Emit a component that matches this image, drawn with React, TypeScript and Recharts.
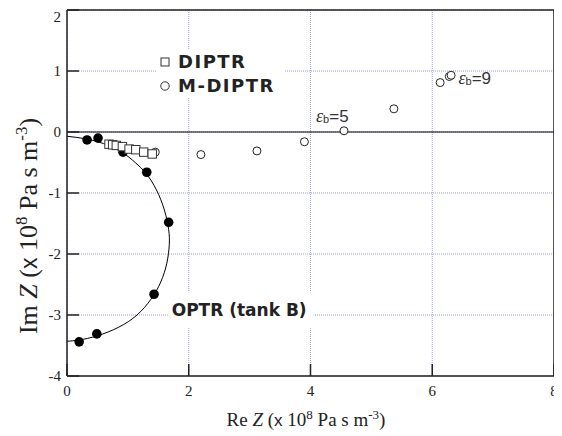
import React from 'react';
import {
  ComposedChart,
  XAxis,
  YAxis,
  CartesianGrid,
  Scatter,
  Line,
  ReferenceLine,
  ReferenceDot,
  Legend,
} from 'recharts';

// ---- axis ticks ----
const xTicks = [0, 2, 4, 6, 8];
const yTicks = [-4, -3, -2, -1, 0, 1, 2];

// ---- OPTR (tank B): filled circles ----
const optrRe = [0.33, 0.51, 0.92, 1.31, 1.67, 1.43, 0.49, 0.2];
const optrIm = [-0.13, -0.1, -0.33, -0.66, -1.48, -2.66, -3.31, -3.44];

// ---- OPTR fitted curve ----
const fitRe = [0, 0.3, 0.6, 0.9, 1.12, 1.3, 1.47, 1.6, 1.67, 1.68, 1.64, 1.54, 1.38, 1.15, 0.85, 0.5, 0.2, 0];
const fitIm = [-0.07, -0.11, -0.19, -0.33, -0.5, -0.68, -0.95, -1.28, -1.6, -1.85, -2.15, -2.46, -2.74, -3.0, -3.2, -3.34, -3.41, -3.43];

// ---- DIPTR: open squares ----
const diptrRe = [0.69, 0.75, 0.81, 0.91, 1.02, 1.13, 1.26, 1.4];
const diptrIm = [-0.2, -0.21, -0.22, -0.24, -0.28, -0.29, -0.33, -0.36];

// ---- M-DIPTR: open circles ----
const mdiptrRe = [1.45, 2.2, 3.12, 3.9, 4.55, 5.37, 6.13, 6.28, 6.31];
const mdiptrIm = [-0.33, -0.37, -0.31, -0.16, 0.02, 0.38, 0.81, 0.91, 0.93];

// ---- annotations ----
const epsLabels = [
  { x: 4.09, y: 0.17, value: '5' },
  { x: 6.43, y: 0.79, value: '9' },
];
const optrLabel = { x: 1.72, y: -3.02, text: 'OPTR (tank B)' };
const legendItems = [
  { label: 'DIPTR', shape: 'square' },
  { label: 'M-DIPTR', shape: 'circle' },
];

const zip = (xs: number[], ys: number[]) => xs.map((x, i) => ({ x, y: ys[i] }));
const optrData = zip(optrRe, optrIm);
const fitData = zip(fitRe, fitIm);
const diptrData = zip(diptrRe, diptrIm);
const mdiptrData = zip(mdiptrRe, mdiptrIm);

const FRAME = '#222';
const GRID = '#9a9af4';
const SERIF = 'Liberation Serif';

const FilledDot = (p: any) => <circle cx={p.cx} cy={p.cy} r={4.8} fill="#000" />;
const OpenDot = (p: any) => (
  <circle cx={p.cx} cy={p.cy} r={4} fill="#fff" stroke="#222" strokeWidth={1} />
);
const OpenSquare = (p: any) => (
  <rect x={p.cx - 4.2} y={p.cy - 4.2} width={8.4} height={8.4} fill="#fff" stroke="#333" strokeWidth={1} />
);

const XTick = (p: any) => (
  <text x={p.x} y={p.y} dy={10} textAnchor="middle" fill="#222" fontFamily={SERIF} fontSize={15}>
    {p.payload.value}
  </text>
);
const YTick = (p: any) => (
  <text x={p.x} y={p.y} dy={5} textAnchor="end" fill="#222" fontFamily={SERIF} fontSize={15}>
    {p.payload.value}
  </text>
);

const center = (vb: any) => ({
  x: (vb?.x ?? 0) + (vb?.width ?? 0) / 2,
  y: (vb?.y ?? 0) + (vb?.height ?? 0) / 2,
});

const EpsLabel = (value: string) => (props: any) => {
  const c = center(props.viewBox);
  return (
    <text x={c.x} y={c.y} fill="#333">
      <tspan fontFamily={SERIF} fontStyle="italic" fontSize={18}>ε</tspan>
      <tspan fontFamily="Liberation Sans" fontSize={11} dy={1}>b</tspan>
      <tspan fontFamily="Liberation Sans" fontSize={17} dy={-1}>={value}</tspan>
    </text>
  );
};

const OptrLabel = (props: any) => {
  const c = center(props.viewBox);
  return (
    <g>
      <rect x={c.x - 4} y={c.y - 24} width={146} height={36} fill="#fff" />
      <text x={c.x} y={c.y} fill="#222" fontFamily="DejaVu Sans" fontWeight="bold" fontSize={17}>
        {optrLabel.text}
      </text>
    </g>
  );
};

const XTitle = () => (
  <text x={298} y={418} textAnchor="middle" fill="#222" fontFamily={SERIF} fontSize={19}>
    <tspan>Re </tspan>
    <tspan fontStyle="italic">Z</tspan>
    <tspan> (</tspan>
    <tspan fontFamily="Liberation Sans" fontSize={17}>x</tspan>
    <tspan> 10</tspan>
    <tspan fontSize={13} dy={-7}>8</tspan>
    <tspan dy={7}> Pa s m</tspan>
    <tspan fontSize={13} dy={-7}>-3</tspan>
    <tspan dy={7}>)</tspan>
  </text>
);

const YTitle = () => (
  <text
    transform="translate(29,218) rotate(-90)"
    x={0}
    y={0}
    textAnchor="middle"
    fill="#222"
    fontFamily={SERIF}
    fontSize={26}
  >
    <tspan>Im </tspan>
    <tspan fontStyle="italic">Z</tspan>
    <tspan> (</tspan>
    <tspan fontFamily="Liberation Sans" fontSize={23}>x</tspan>
    <tspan> 10</tspan>
    <tspan fontSize={17} dy={-10}>8</tspan>
    <tspan dy={10}> Pa s m</tspan>
    <tspan fontSize={17} dy={-10}>-3</tspan>
    <tspan dy={10}>)</tspan>
  </text>
);

const LegendBox = () => (
  <div style={{ background: '#fff', width: 128 }}>
    {legendItems.map((it) => (
      <div key={it.label} style={{ display: 'flex', alignItems: 'center', height: 24 }}>
        <svg width={16} height={16} style={{ display: 'block' }}>
          {it.shape === 'square' ? (
            <rect x={4} y={4} width={8} height={8} fill="#fff" stroke="#333" strokeWidth={1} />
          ) : (
            <circle cx={8} cy={8} r={4.2} fill="#fff" stroke="#333" strokeWidth={1} />
          )}
        </svg>
        <span
          style={{
            marginLeft: 5,
            fontFamily: 'DejaVu Sans',
            fontWeight: 'bold',
            fontSize: 18,
            letterSpacing: 1.5,
            color: '#222',
            lineHeight: '24px',
          }}
        >
          {it.label}
        </span>
      </div>
    ))}
  </div>
);

export default function App() {
  return (
    <ComposedChart width={554} height={428} margin={{ top: 0, right: 0, bottom: 0, left: 0 }}>
      <CartesianGrid stroke={GRID} strokeDasharray="1 1" strokeWidth={1} />
      <XAxis
        xAxisId={0}
        type="number"
        dataKey="x"
        domain={[0, 8]}
        ticks={xTicks}
        allowDataOverflow
        height={60}
        axisLine={{ stroke: FRAME, strokeWidth: 1.5 }}
        tickLine={{ stroke: FRAME, strokeWidth: 1.5 }}
        tickSize={-12}
        tickMargin={22}
        tick={<XTick />}
        label={<XTitle />}
      />
      <XAxis
        xAxisId="top"
        orientation="top"
        type="number"
        dataKey="x"
        domain={[0, 8]}
        ticks={xTicks}
        allowDataOverflow
        height={2}
        axisLine={{ stroke: FRAME, strokeWidth: 1.5 }}
        tickLine={{ stroke: FRAME, strokeWidth: 1.5 }}
        tickSize={-10}
        tick={false}
      />
      <YAxis
        yAxisId={0}
        type="number"
        dataKey="y"
        domain={[-4, 2]}
        ticks={yTicks}
        allowDataOverflow
        width={59}
        axisLine={{ stroke: FRAME, strokeWidth: 1.5 }}
        tickLine={{ stroke: FRAME, strokeWidth: 1.5 }}
        tickSize={-12}
        tickMargin={18}
        tick={<YTick />}
        label={<YTitle />}
      />
      <YAxis
        yAxisId="right"
        orientation="right"
        type="number"
        dataKey="y"
        domain={[-4, 2]}
        ticks={yTicks}
        allowDataOverflow
        width={8}
        axisLine={{ stroke: FRAME, strokeWidth: 1.5 }}
        tickLine={{ stroke: FRAME, strokeWidth: 1.5 }}
        tickSize={-10}
        tick={false}
      />
      <ReferenceLine y={0} stroke="#000" strokeWidth={1.2} />
      <Line
        data={fitData}
        dataKey="y"
        type="natural"
        stroke="#000"
        strokeWidth={1}
        dot={false}
        activeDot={false}
        legendType="none"
        isAnimationActive={false}
      />
      <Scatter data={optrData} dataKey="y" shape={FilledDot} legendType="none" isAnimationActive={false} />
      <Scatter data={mdiptrData} dataKey="y" shape={OpenDot} legendType="none" isAnimationActive={false} />
      <Scatter data={diptrData} dataKey="y" shape={OpenSquare} legendType="none" isAnimationActive={false} />
      {epsLabels.map((e) => (
        <ReferenceDot key={e.value} x={e.x} y={e.y} r={0} fill="none" stroke="none" label={EpsLabel(e.value)} />
      ))}
      <ReferenceDot x={optrLabel.x} y={optrLabel.y} r={0} fill="none" stroke="none" label={OptrLabel} />
      <Legend
        layout="vertical"
        align="center"
        verticalAlign="middle"
        wrapperStyle={{ position: 'absolute', left: 149, top: 42, width: 128 }}
        content={() => <LegendBox />}
      />
    </ComposedChart>
  );
}
